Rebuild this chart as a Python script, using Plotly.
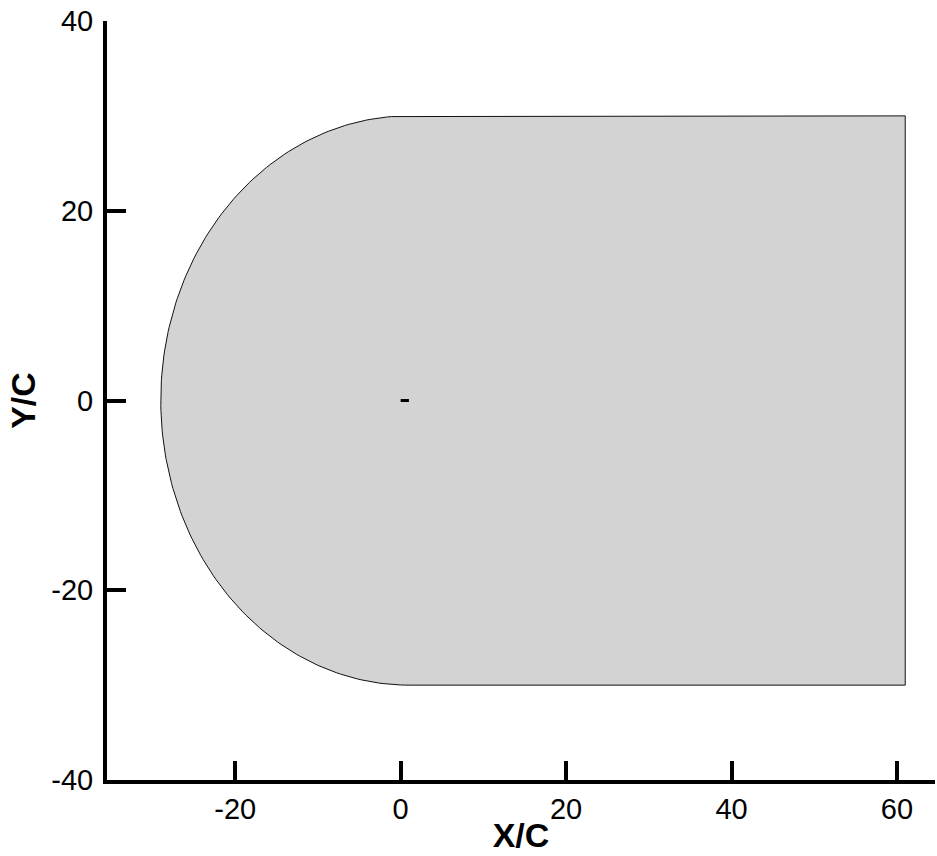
import numpy as np
import plotly.graph_objects as go

# Computational domain (C-type), lengths in chords
farfield_radius = 30.0      # radius of the upstream semicircle
arc_center_x = 1.0          # semicircle centred on the trailing edge
outlet_x = 61.0             # downstream boundary
airfoil_x = [0.0, 1.0]      # chord line of the airfoil
airfoil_y = [0.0, 0.0]

x_ticks = [-20, 0, 20, 40, 60]
y_ticks = [-40, -20, 0, 20, 40]

# Domain outline: upper straight edge -> semicircle -> lower straight edge -> outlet
theta = np.linspace(np.pi / 2, 3 * np.pi / 2, 181)
arc_x = arc_center_x + farfield_radius * np.cos(theta)
arc_y = farfield_radius * np.sin(theta)
dom_x = np.concatenate([[outlet_x], arc_x, [outlet_x, outlet_x]])
dom_y = np.concatenate([[farfield_radius], arc_y, [-farfield_radius, farfield_radius]])

fig = go.Figure()
fig.add_trace(go.Scatter(
    x=dom_x, y=dom_y, mode="lines", fill="toself",
    fillcolor="#D3D3D3", line=dict(color="#111111", width=1),
    hoverinfo="skip", showlegend=False,
))
fig.add_trace(go.Scatter(
    x=airfoil_x, y=airfoil_y, mode="lines",
    line=dict(color="black", width=3), showlegend=False,
))

font_family = "Liberation Sans, Arial"
axis_common = dict(
    showgrid=False, zeroline=False, showline=True, linecolor="black", linewidth=4,
    ticks="inside", ticklen=19, tickwidth=4, tickcolor="black",
    tickfont=dict(family=font_family, size=29, color="black"),
    mirror=False,
)

fig.update_layout(
    width=937, height=856,
    margin=dict(l=107, r=2, t=21, b=76),
    paper_bgcolor="white", plot_bgcolor="white",
    xaxis=dict(range=[-35.5, 64.6], tickvals=x_ticks, ticktext=[str(v) for v in x_ticks],
               ticklabelstandoff=0,
               title=dict(text="<b>X/C</b>", standoff=0,
                          font=dict(family=font_family, size=34, color="black")),
               **axis_common),
    yaxis=dict(range=[-40, 40], tickvals=y_ticks, ticktext=[str(v) for v in y_ticks],
               ticklabelstandoff=4,
               title=dict(text="<b>Y/C</b>", standoff=6,
                          font=dict(family=font_family, size=34, color="black")),
               **axis_common),
)

fig.write_html("out.html")
